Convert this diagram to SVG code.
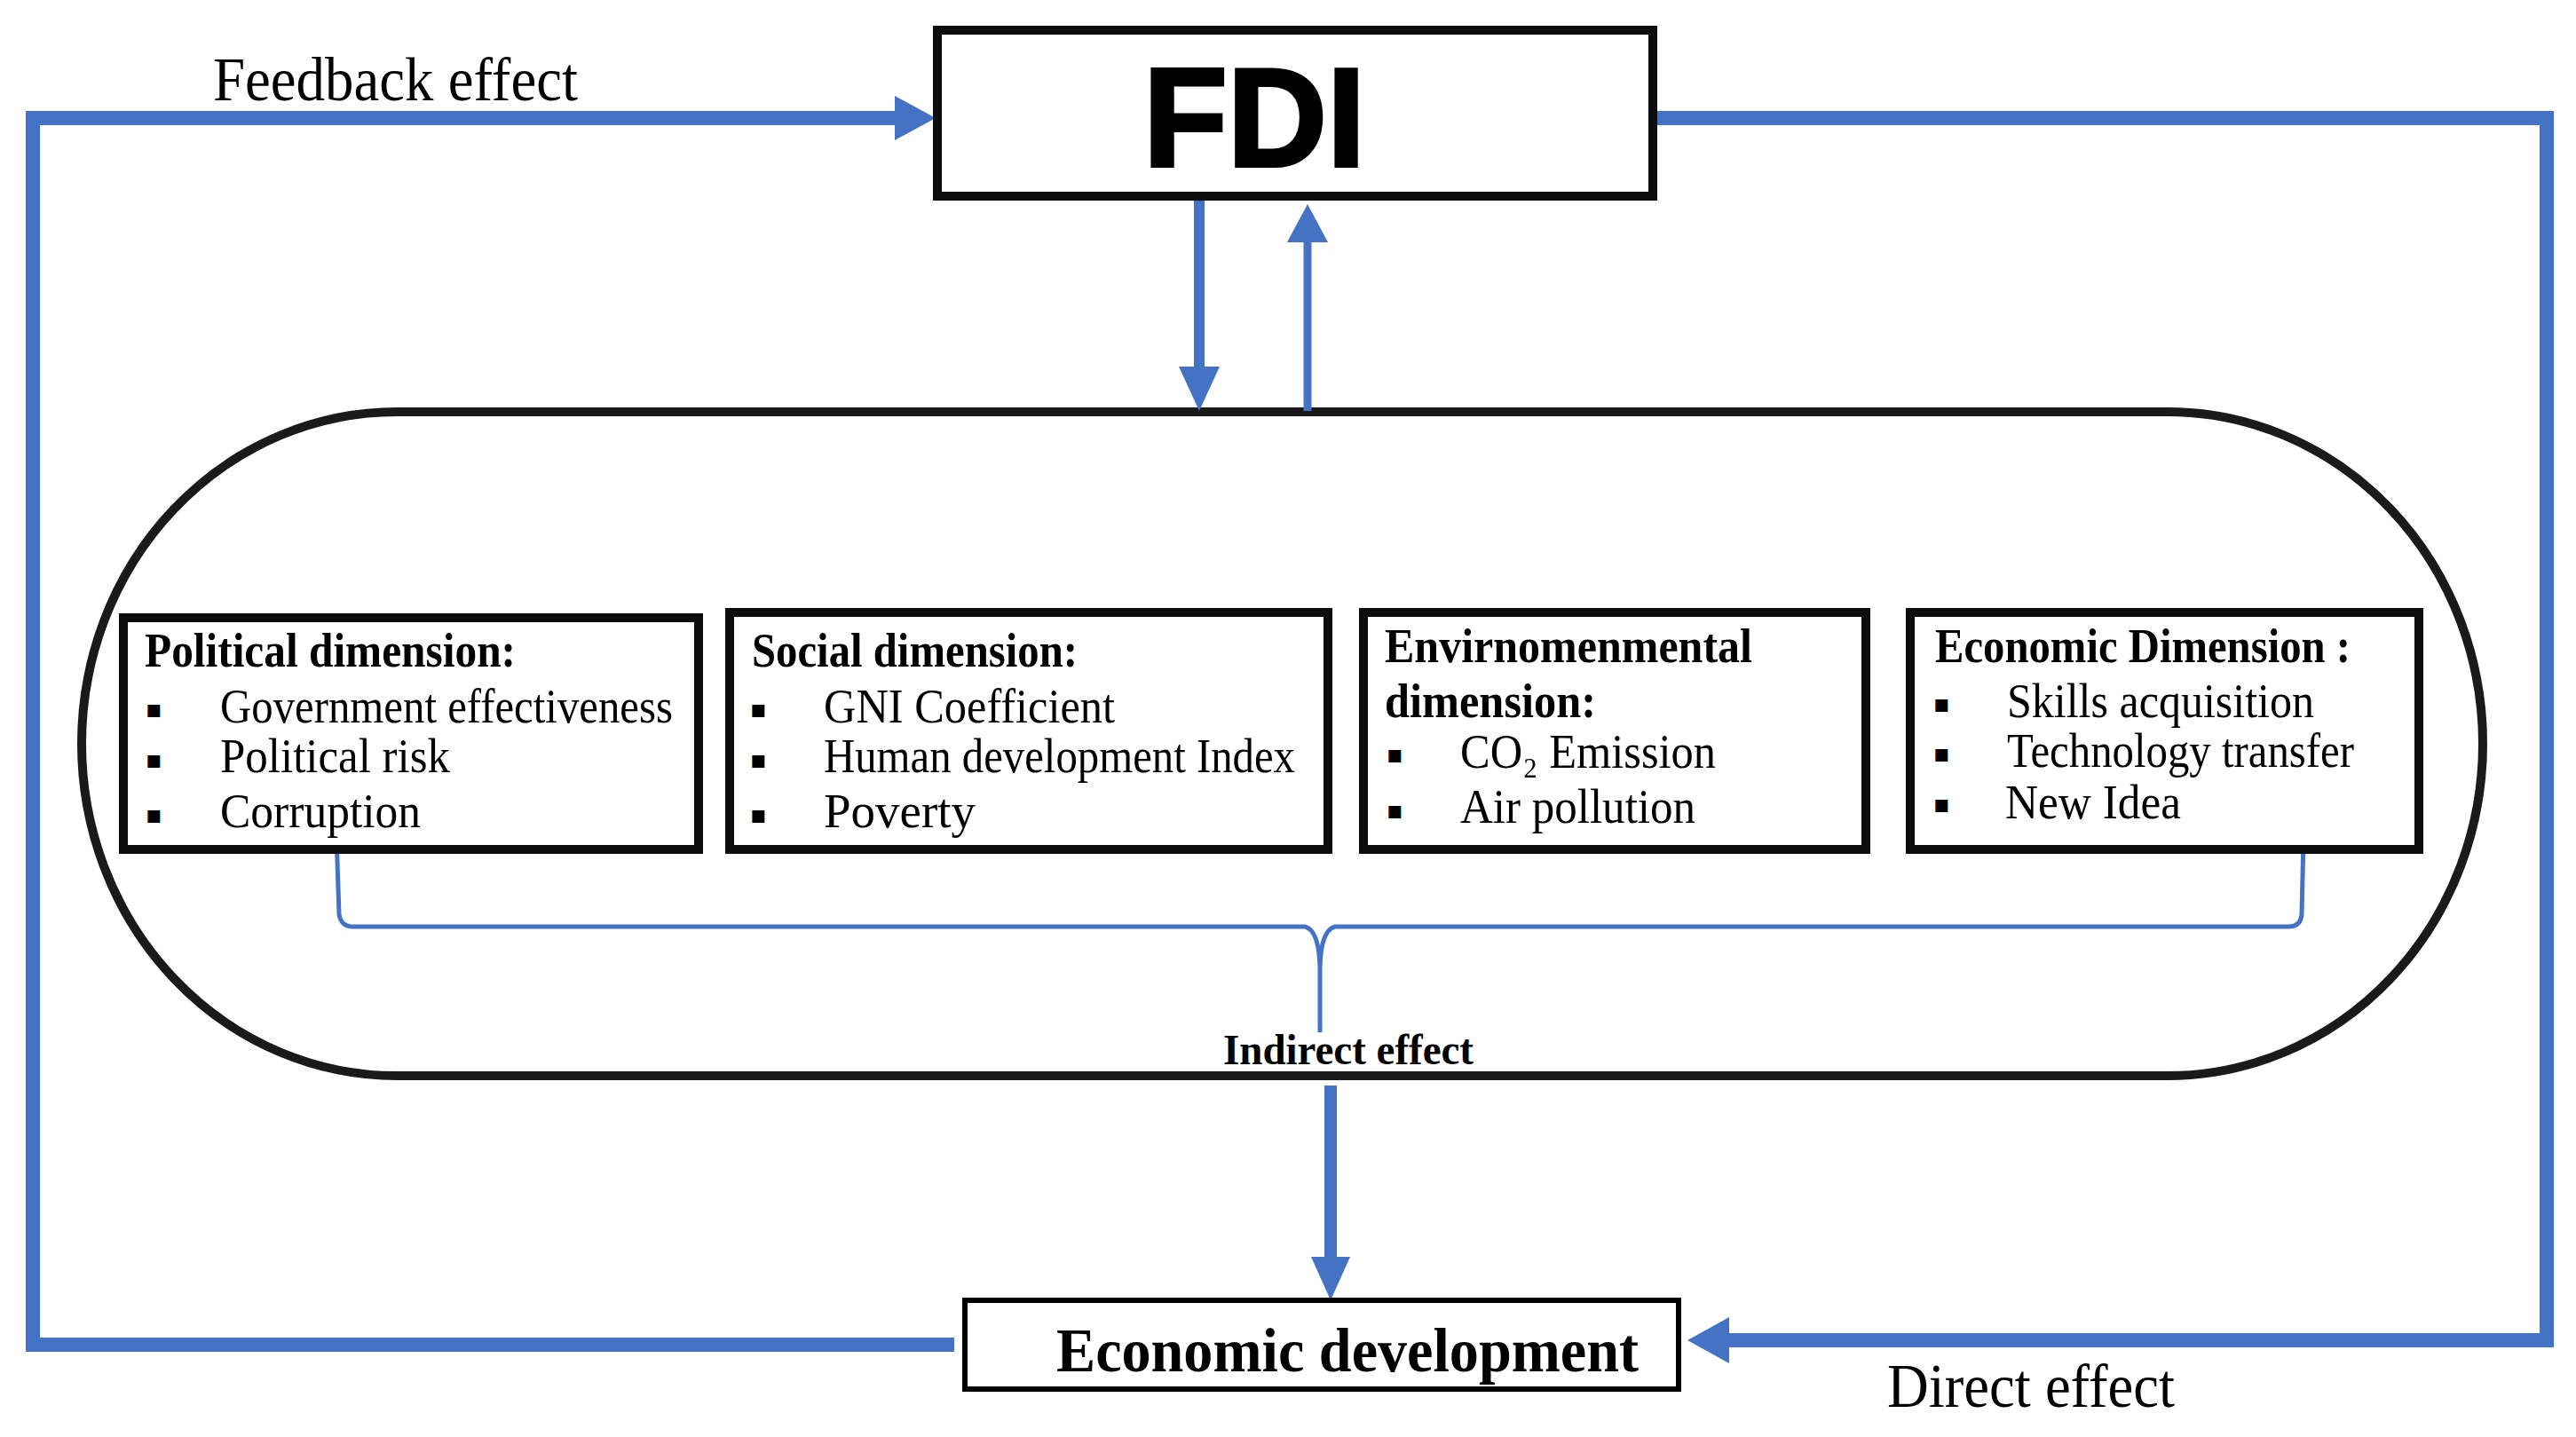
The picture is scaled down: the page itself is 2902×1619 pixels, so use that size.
<svg xmlns="http://www.w3.org/2000/svg" width="2902" height="1619" viewBox="0 0 2902 1619">
<style>
.box{fill:#fff;stroke:#0d0d0d;stroke-width:10}
.hd{font-family:"Liberation Serif","Times New Roman",serif;font-weight:bold;font-size:54px;fill:#000}
.it{font-family:"Liberation Serif","Times New Roman",serif;font-size:54px;fill:#000}
.bl{font-family:"DejaVu Sans",sans-serif;font-size:28px;fill:#000}
.lbl{font-family:"Liberation Serif","Times New Roman",serif;font-size:70px;fill:#000}
.thick{fill:none;stroke:#4472C4;stroke-width:16}
.thin{fill:none;stroke:#4472C4;stroke-width:5;stroke-linejoin:round}
.head{fill:#4472C4}
</style>
<rect width="2902" height="1619" fill="#fff"/>
<g id="container">
<rect x="92" y="464" width="2705" height="748" rx="355" ry="374" fill="none" stroke="#1a1a1a" stroke-width="10"/>
</g>
<g id="connectors">
<path class="thick" d="M1075 1515 H37 V133 H1010"/>
<polygon class="head" points="1008,108 1054,133 1008,158"/>
<path class="thick" d="M1867 133 H2869 V1510 H1946"/>
<polygon class="head" points="1948,1484 1901,1510 1948,1536"/>
<path fill="none" stroke="#4472C4" stroke-width="12" d="M1351 226 V415"/>
<polygon class="head" points="1328,413 1374,413 1351,463"/>
<path fill="none" stroke="#4472C4" stroke-width="9" d="M1473 463 V270"/>
<polygon class="head" points="1450,273 1496,273 1473,230"/>
<path fill="none" stroke="#4472C4" stroke-width="14" d="M1499 1223 V1418"/>
<polygon class="head" points="1477,1416 1521,1416 1499,1465"/>
<path class="thin" d="M379 940 L382 1030 Q384 1044 398 1044 H1470 Q1486 1048 1487 1090 V1163 M1487 1090 Q1488 1048 1504 1044 H2578 Q2592 1044 2593 1030 L2595 945"/>
<text class="lbl" x="240" y="113" textLength="411" lengthAdjust="spacingAndGlyphs">Feedback effect</text>
<text class="lbl" x="2126" y="1585" textLength="324" lengthAdjust="spacingAndGlyphs">Direct effect</text>
<text class="hd" x="1378" y="1199" textLength="282" lengthAdjust="spacingAndGlyphs" style="font-size:48px">Indirect effect</text>
</g>
<g id="fdi">
<rect class="box" x="1056" y="34" width="806" height="187"/>
<text x="1288" y="187" font-family="Liberation Sans, Arial, sans-serif" font-weight="bold" font-size="158" textLength="250" lengthAdjust="spacingAndGlyphs" stroke="#000" stroke-width="4">FDI</text>
</g>
<g id="economic-development">
<rect x="1087" y="1465" width="804" height="100" fill="#fff" stroke="#000" stroke-width="6"/>
<text class="hd" x="1190" y="1545" textLength="656" lengthAdjust="spacingAndGlyphs" style="font-size:70px">Economic development</text>
</g>
<g id="political">
<rect class="box" x="139" y="696" width="648" height="261"/>
<text class="hd" x="163" y="751" textLength="418" lengthAdjust="spacingAndGlyphs">Political dimension:</text>
<text class="bl" x="164" y="808">▪</text>
<text class="bl" x="164" y="865">▪</text>
<text class="bl" x="164" y="927">▪</text>
<text class="it" x="248" y="814" textLength="510" lengthAdjust="spacingAndGlyphs">Government effectiveness</text>
<text class="it" x="248" y="870" textLength="259" lengthAdjust="spacingAndGlyphs">Political risk</text>
<text class="it" x="248" y="932" textLength="226" lengthAdjust="spacingAndGlyphs">Corruption</text>
</g>
<g id="social">
<rect class="box" x="822" y="690" width="674" height="267"/>
<text class="hd" x="847" y="751" textLength="367" lengthAdjust="spacingAndGlyphs">Social dimension:</text>
<text class="bl" x="845" y="808">▪</text>
<text class="bl" x="845" y="865">▪</text>
<text class="bl" x="845" y="927">▪</text>
<text class="it" x="928" y="814" textLength="328" lengthAdjust="spacingAndGlyphs">GNI Coefficient</text>
<text class="it" x="928" y="870" textLength="531" lengthAdjust="spacingAndGlyphs">Human development Index</text>
<text class="it" x="928" y="932" textLength="171" lengthAdjust="spacingAndGlyphs">Poverty</text>
</g>
<g id="environmental">
<rect class="box" x="1536" y="690" width="566" height="267"/>
<text class="hd" x="1560" y="746" textLength="414" lengthAdjust="spacingAndGlyphs">Envirnomenmental</text>
<text class="hd" x="1560" y="808" textLength="238" lengthAdjust="spacingAndGlyphs">dimension:</text>
<text class="bl" x="1562" y="859">▪</text>
<text class="bl" x="1562" y="922">▪</text>
<text class="it" x="1645" y="865" textLength="288" lengthAdjust="spacingAndGlyphs">CO₂ Emission</text>
<text class="it" x="1645" y="927" textLength="265" lengthAdjust="spacingAndGlyphs">Air pollution</text>
</g>
<g id="economic">
<rect class="box" x="2152" y="690" width="573" height="267"/>
<text class="hd" x="2180" y="746" textLength="468" lengthAdjust="spacingAndGlyphs">Economic Dimension :</text>
<text class="bl" x="2178" y="802">▪</text>
<text class="bl" x="2178" y="858">▪</text>
<text class="bl" x="2178" y="915">▪</text>
<text class="it" x="2261" y="808" textLength="346" lengthAdjust="spacingAndGlyphs">Skills acquisition</text>
<text class="it" x="2261" y="864" textLength="391" lengthAdjust="spacingAndGlyphs">Technology transfer</text>
<text class="it" x="2259" y="922" textLength="198" lengthAdjust="spacingAndGlyphs">New Idea</text>
</g>
</svg>
